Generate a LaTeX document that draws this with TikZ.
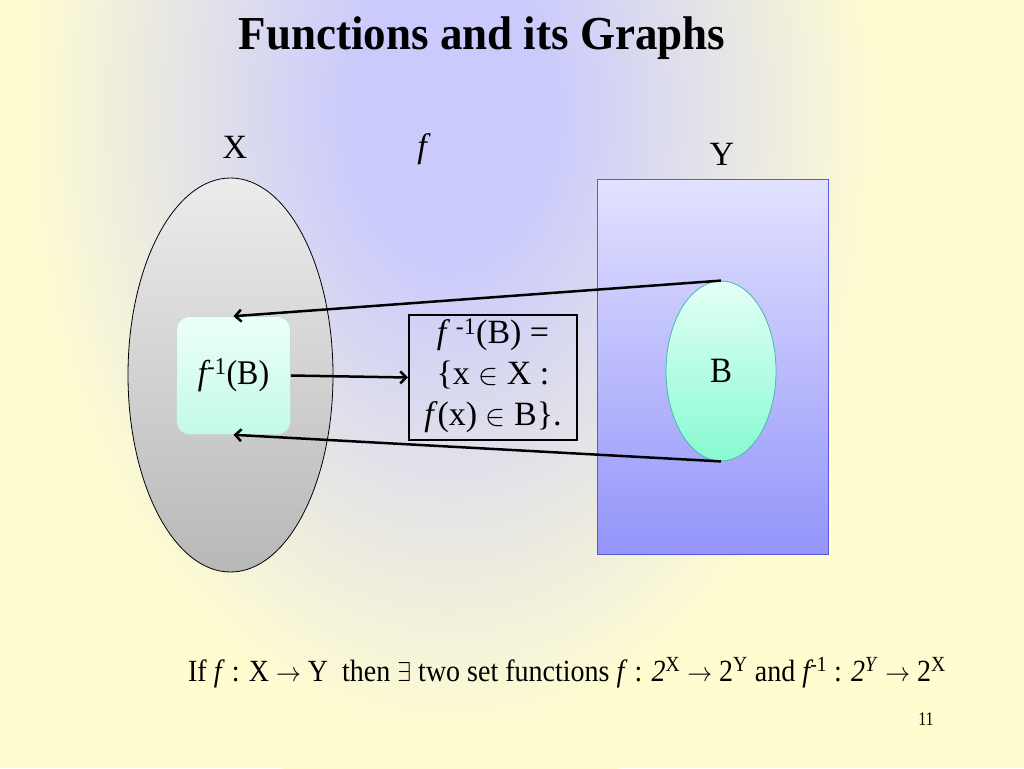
\documentclass[tikz,border=0pt]{standalone}
\usepackage{fontspec}
\setmainfont{Liberation Serif}
\usetikzlibrary{shapes.geometric,arrows.meta}
\definecolor{bgyel}{RGB}{255,253,208}
\definecolor{lav}{RGB}{202,202,253}
\definecolor{xtop}{RGB}{236,236,236}
\definecolor{xbot}{RGB}{184,184,184}
\definecolor{ytop}{RGB}{226,226,255}
\definecolor{ybot}{RGB}{148,148,250}
\definecolor{yedge}{RGB}{90,90,220}
\definecolor{btop}{RGB}{228,255,246}
\definecolor{bbot}{RGB}{135,250,210}
\definecolor{bedge}{RGB}{70,185,175}
\definecolor{rtop}{RGB}{236,255,250}
\definecolor{rbot}{RGB}{195,250,230}
\definecolor{redge}{RGB}{200,215,210}
\pgfdeclareradialshading{glow}{\pgfpoint{0bp}{0bp}}{color(0bp)=(lav); color(10bp)=(lav); color(45bp)=(bgyel); color(50bp)=(bgyel)}
\newcommand{\tallx}[2]{\scalebox{1}[#1]{#2}}
\newcommand{\elem}{\scalebox{1.2}{$\in$}}
\tikzset{
  lbl/.style={inner sep=0pt, font=\fontsize{34}{40}\selectfont},
  arr/.style={line width=2.5pt, -{Straight Barb[length=6pt,width=12pt]}},
}
\begin{document}
\begin{tikzpicture}[x=1pt,y=-1pt]
\useasboundingbox (0,0) rectangle (1024,768);
\fill[bgyel] (0,0) rectangle (1024,768);
\begin{scope}
\clip (0,0) rectangle (1024,768);
\begin{scope}[shift={(450,110)}]
\pgftransformxscale{9.6}\pgftransformyscale{14}
\pgflowlevelsynccm
\pgfuseshading{glow}
\end{scope}
\end{scope}

\node[inner sep=0pt, font=\fontsize{45}{54}\bfseries] (title) at (482,38) {\tallx{1.05}{Functions and its Graphs}};

\node[lbl] (xl) at (235,147) {X};
\node[lbl] (fl) at (424,149) {\textit{f}};
\node[lbl] (yl) at (722,154) {Y};

\node[ellipse, draw=black, line width=0.8pt, top color=xtop, bottom color=xbot, minimum width=205pt, minimum height=394pt, inner sep=0pt] (xset) at (230.5,375) {};
\node[draw=yedge, line width=0.8pt, top color=ytop, bottom color=ybot, minimum width=231pt, minimum height=375pt, inner sep=0pt] (yset) at (712.5,366.5) {};
\node[ellipse, draw=bedge, line width=0.8pt, top color=btop, bottom color=bbot, minimum width=110pt, minimum height=180pt, inner sep=0pt, font=\fontsize{33}{38}\selectfont] (bset) at (721,371) {\tallx{1.08}{B}};
\node[rounded corners=13pt, draw=redge, line width=0.6pt, top color=rtop, bottom color=rbot, minimum width=114pt, minimum height=118pt, inner sep=0pt, font=\fontsize{32}{38}\selectfont] (pre) at (233.5,375.5) {\tallx{1.08}{\textit{f}\kern-3pt\textsuperscript{-1}(B)}};
\node[draw=black, line width=2pt, minimum width=168pt, minimum height=125pt, inner sep=0pt, align=center, font=\fontsize{34}{41}\selectfont] (def) at (493,377.5) {\textit{f}\,\textsuperscript{-1}(B) =\\\{x \elem\ X :\\\textit{f}(x) \elem\ B\}.\rule[-10pt]{0pt}{1pt}};

\draw[arr] (bset.north) -- (pre.north);
\draw[arr] (bset.south) -- (pre.south);
\draw[arr] (pre.east) -- (def.west);

\node[inner sep=0pt, font=\fontsize{28}{34}\selectfont] (stmt) at (567,673) {\tallx{1.1}{If \textit{f} : X $\rightarrow$ Y\ \ then $\exists$ two set functions \textit{f} : \textit{2}\textsuperscript{X} $\rightarrow$ 2\textsuperscript{Y} and \textit{f}\kern-3pt\textsuperscript{-1} : \textit{2}\textsuperscript{\textit{Y}} $\rightarrow$ 2\textsuperscript{X}}};
\node[inner sep=0pt, font=\fontsize{16}{19}\selectfont] (pg) at (926,719) {\tallx{1.2}{11}};
\end{tikzpicture}
\end{document}
